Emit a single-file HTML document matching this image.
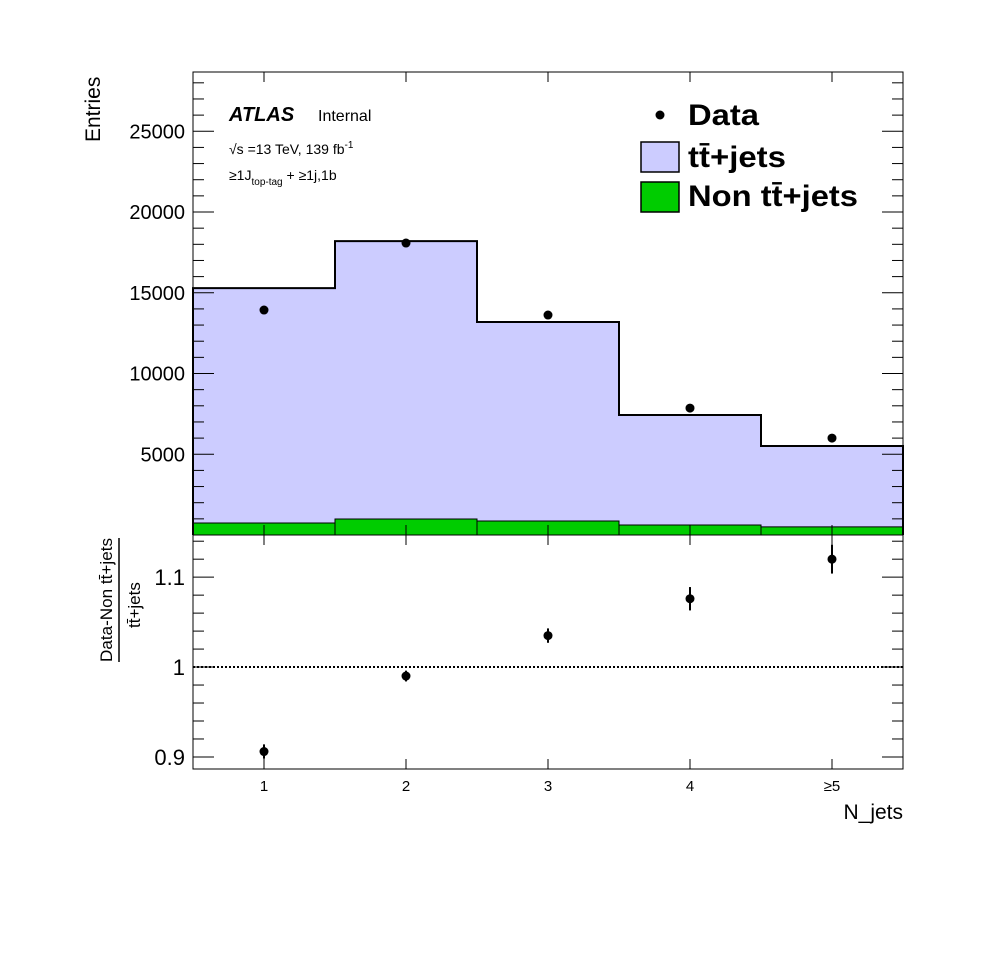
<!DOCTYPE html>
<html><head><meta charset="utf-8"><style>
body{margin:0;background:#fff}
svg{display:block;font-family:"Liberation Sans",sans-serif}
</style></head><body>
<svg id="c" width="998" height="974" viewBox="0 0 998 974" xmlns="http://www.w3.org/2000/svg"></svg>
<script>
const categories=["1","2","3","4","≥5"];
const ttbarTotal=[15290,18200,13190,7430,5510];
const nonTtbar=[740,990,870,620,500];
const dataVals=[13930,18080,13620,7860,6000];
const ratioVals=[0.906,0.990,1.035,1.076,1.120];
const ratioErr=[0.008,0.006,0.008,0.013,0.016];
const upperTicks=[5000,10000,15000,20000,25000];
const lowerTicks=[0.9,1,1.1];

const NS="http://www.w3.org/2000/svg";
const svg=document.getElementById('c');
const X0=193,X1=903,UT=72,UB=535,LT=535,LB=769;
const YMAX=28670,RMIN=0.8866,RMAX=1.1469;
const xs=v=>X0+(v-0.5)*(X1-X0)/5;
const yu=v=>UB-v*(UB-UT)/YMAX;
const yl=v=>LB-(v-RMIN)*(LB-LT)/(RMAX-RMIN);
function el(t,a,p){const e=document.createElementNS(NS,t);for(const k in a)e.setAttribute(k,a[k]);(p||svg).appendChild(e);return e;}
function txt(s,a){const e=el('text',a);e.textContent=s;return e;}

for(let i=0;i<5;i++){
  const r=el('rect',{x:xs(i+0.5),y:yu(ttbarTotal[i]),width:xs(i+1.5)-xs(i+0.5),height:yu(0)-yu(ttbarTotal[i]),fill:'#ccccff'});
  
  
  const g=el('rect',{x:xs(i+0.5),y:yu(nonTtbar[i]),width:xs(i+1.5)-xs(i+0.5),height:yu(0)-yu(nonTtbar[i]),fill:'#00cc00'});
  
  
}
function stepPath(vals){let d='M'+xs(0.5)+','+yu(0);for(let i=0;i<5;i++){d+=' L'+xs(i+0.5)+','+yu(vals[i])+' L'+xs(i+1.5)+','+yu(vals[i]);}d+=' L'+xs(5.5)+','+yu(0);return d;}
const s1=el('path',{d:stepPath(ttbarTotal),fill:'none',stroke:'#000','stroke-width':2});


const s2=el('path',{d:stepPath(nonTtbar),fill:'none',stroke:'#000','stroke-width':1});


for(let i=1;i<5;i++){el('line',{x1:xs(i+0.5),x2:xs(i+0.5),y1:yu(nonTtbar[i-1]),y2:UB,stroke:'#000','stroke-width':1});}

for(let i=0;i<5;i++){
  const c=el('circle',{cx:xs(i+1),cy:yu(dataVals[i]),r:4.5,fill:'#000'});
  
  
}

el('rect',{x:X0,y:UT,width:X1-X0,height:UB-UT,fill:'none',stroke:'#000','stroke-width':1});
el('rect',{x:X0,y:LT,width:X1-X0,height:LB-LT,fill:'none',stroke:'#000','stroke-width':1});

for(let v=1000;v<YMAX;v+=1000){
  const maj=v%5000===0;const L=maj?21:11;
  el('line',{x1:X0,x2:X0+L,y1:yu(v),y2:yu(v),stroke:'#000'});
  el('line',{x1:X1,x2:X1-L,y1:yu(v),y2:yu(v),stroke:'#000'});
}
upperTicks.forEach(v=>{const t=txt(String(v),{x:X0-8,y:yu(v)+7,'text-anchor':'end','font-size':20});});
for(let i=0;i<5;i++){
  el('line',{x1:xs(i+1),x2:xs(i+1),y1:UB,y2:UB-10,stroke:'#000'});
  el('line',{x1:xs(i+1),x2:xs(i+1),y1:UT,y2:UT+10,stroke:'#000'});
  el('line',{x1:xs(i+1),x2:xs(i+1),y1:LB,y2:LB-10,stroke:'#000'});
  el('line',{x1:xs(i+1),x2:xs(i+1),y1:LT,y2:LT+10,stroke:'#000'});
  const t=txt(categories[i],{x:xs(i+1),y:LB+22,'text-anchor':'middle','font-size':15});
  
  
}
for(let k=0;k<=13;k++){
  const v=0.88+k*0.02;if(v<RMIN||v>RMAX)continue;
  const maj=Math.abs(v*10-Math.round(v*10))<1e-6;const L=maj?21:11;
  el('line',{x1:X0,x2:X0+L,y1:yl(v),y2:yl(v),stroke:'#000'});
  el('line',{x1:X1,x2:X1-L,y1:yl(v),y2:yl(v),stroke:'#000'});
}
lowerTicks.forEach(v=>{const t=txt(String(v),{x:X0-8,y:yl(v)+8,'text-anchor':'end','font-size':22});});
el('line',{x1:X0,x2:X1,y1:yl(1),y2:yl(1),stroke:'#000','stroke-width':2,'stroke-dasharray':'2,2'});
for(let i=0;i<5;i++){
  el('line',{x1:xs(i+1),x2:xs(i+1),y1:yl(ratioVals[i]-ratioErr[i]),y2:yl(ratioVals[i]+ratioErr[i]),stroke:'#000','stroke-width':2});
  const c=el('circle',{cx:xs(i+1),cy:yl(ratioVals[i]),r:4.5,fill:'#000'});
  
  
}
</script>
<div style="position:absolute;left:0;top:0;width:998px;height:974px;pointer-events:none">
<svg width="998" height="974" style="font-family:'Liberation Sans',sans-serif">
<text transform="translate(100,142) rotate(-90)" font-size="21">Entries</text>
<text x="903" y="819" text-anchor="end" font-size="21">N_jets</text>
<g>
<text transform="translate(112,662) rotate(-90)" font-size="17" textLength="124" lengthAdjust="spacingAndGlyphs">Data-Non tt̄+jets</text>
<line x1="119" y1="538" x2="119" y2="662" stroke="#000" stroke-width="1.5"/>
<text transform="translate(140,628) rotate(-90)" font-size="17">tt̄+jets</text>
</g>
<text x="229" y="121" font-size="20" font-weight="bold" font-style="italic">ATLAS</text>
<text x="318" y="121" font-size="16">Internal</text>
<text x="229" y="154" font-size="14">√s =13 TeV, 139 fb<tspan dy="-6" font-size="10">-1</tspan></text>
<text x="229" y="180" font-size="14">≥1J<tspan dy="5" font-size="10">top-tag</tspan><tspan dy="-5"> + ≥1j,1b</tspan></text>
<g>
<circle cx="660" cy="115" r="4.5" fill="#000"/>
<text x="688" y="125" font-size="30" font-weight="bold" textLength="71" lengthAdjust="spacingAndGlyphs">Data</text>
<rect x="641" y="142" width="38" height="30" fill="#ccccff" stroke="#000" stroke-width="1.5"/>
<text x="688" y="167" font-size="30" font-weight="bold" textLength="98" lengthAdjust="spacingAndGlyphs">tt̄+jets</text>
<rect x="641" y="182" width="38" height="30" fill="#00cc00" stroke="#000" stroke-width="1.5"/>
<text x="688" y="206" font-size="30" font-weight="bold" textLength="170" lengthAdjust="spacingAndGlyphs">Non tt̄+jets</text>
</g>
</svg></div>
</body></html>
